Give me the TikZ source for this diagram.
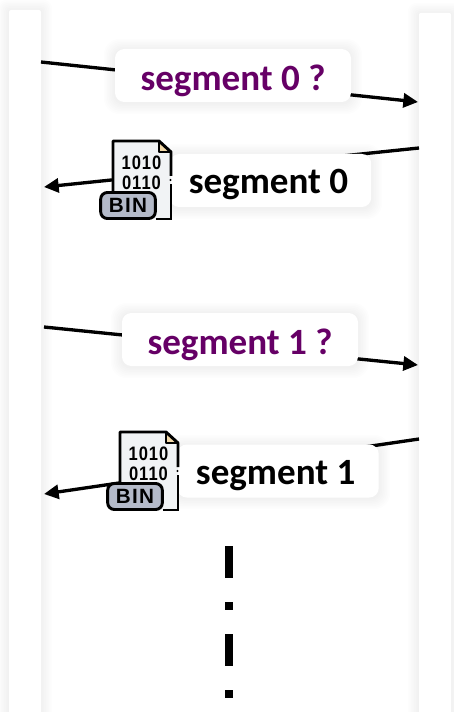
\documentclass[tikz,border=0pt]{standalone}
\usepackage{fontspec}
\setmainfont{Carlito}
\newfontfamily\iconfont[LetterSpace=6]{Liberation Sans}
\usetikzlibrary{arrows.meta}
\definecolor{plum}{HTML}{660066}
\definecolor{binfill}{HTML}{B4BAC9}
\definecolor{pagefill}{HTML}{F1F3F5}
\definecolor{foldfill}{HTML}{F3D9A8}
\newcommand{\softshadow}[5]{%
  \foreach \s in {1,2,...,7}{%
    \fill[black,fill opacity=0.009,rounded corners=#5*0.75pt+\s*0.75pt]
      (#1-1.6*\s,#2-1.6*\s+1) rectangle (#3+1.6*\s,#4+1.6*\s+1);
  }%
}
\tikzset{
  x=0.75pt,y=-0.75pt,
  lifebar/.style={fill=white,rounded corners=1.5pt,minimum width=24pt,inner sep=0pt},
  msgbox/.style={fill=white,rounded corners=7pt,inner sep=0pt,font=\bfseries\fontsize{27.8}{30}\selectfont,text=black},
  askbox/.style={msgbox,minimum width=177pt,minimum height=39.75pt,text=plum,text height=24pt,text depth=2.2pt},
  replybox/.style={msgbox,minimum width=151pt,minimum height=39.75pt,text height=23.2pt,text depth=3pt},
  msgline/.style={draw=black,line width=2.5pt},
  msgarrow/.style={msgline,-{Triangle[length=11pt,width=10.5pt]}},
  dashbar/.style={fill=black,inner sep=0pt,minimum width=6pt},
  digits/.style={font=\iconfont\bfseries\fontsize{14.6}{15}\selectfont,inner sep=0pt,text=black,transform shape,xscale=0.85},
  binicon/.pic={
    \fill[pagefill] (113,141) -- (159,141) -- (171,152) -- (171,219) -- (113,219) -- cycle;
    \fill[foldfill] (159,141) -- (171,152) -- (159,152) -- cycle;
    \draw[line width=2.2pt,line join=round] (171,176) -- (171,152) -- (159,141) -- (113,141) -- (113,195);
    \draw[line width=2.2pt,line join=round] (159,141) -- (159,152) -- (171,152);
    \draw[line width=2.2pt] (171,184) -- (171,219) -- (156,219);
    \fill (170.5,180) circle (1.2);
    \node[digits] (-rowa) at (141.5,163) {1010};
    \node[digits] (-rowb) at (141.5,182.5) {0110};
    \node[draw=black,line width=2.2pt,fill=binfill,rounded corners=5pt,minimum width=41pt,minimum height=19.5pt,inner sep=0pt,font=\iconfont\bfseries\fontsize{15.5}{15}\selectfont,text=black] (-tag) at (128,205.5) {BIN};
  }
}
\begin{document}
\begin{tikzpicture}
\useasboundingbox (0,0) rectangle (454,712);
\clip (0,0) rectangle (454,712);
\fill[white] (0,0) rectangle (454,712);
% lifelines
\softshadow{9}{10}{41}{730}{2}
\softshadow{419}{13}{451}{730}{2}
\node[lifebar,minimum height=540pt] (barL) at (25,370) {};
\node[lifebar,minimum height=538pt] (barR) at (435,371.5) {};
% free ends
\coordinate (a0) at (41,62);
\coordinate (b0) at (418,102);
\coordinate (c0) at (419,148);
\coordinate (d0) at (44,187);
\coordinate (a1) at (44,327);
\coordinate (b1) at (418,365);
\coordinate (c1) at (419,439);
\coordinate (d1) at (44,494);
% connectors
\draw[msgarrow] (a0) -- (b0);
\draw[msgarrow] (c0) -- (d0);
\draw[msgarrow] (a1) -- (b1);
\draw[msgarrow] (c1) -- (d1);
% boxes
\softshadow{115}{49}{351}{102}{9}
\softshadow{170}{154}{371}{207}{9}
\softshadow{122}{313}{358}{366}{9}
\softshadow{177}{445}{379}{497}{9}
\node[askbox] (ask0) at (233,75.5) {segment 0 ?};
\node[replybox] (rep0) at (270.5,180.5) {segment 0\hspace*{3pt}};
\node[askbox] (ask1) at (240,339.5) {segment 1 ?};
\node[replybox] (rep1) at (278,471) {segment 1\hspace*{3.5pt}};
% icons
\pic (iconA) at (0,0) {binicon};
\pic (iconB) at (7,291) {binicon};
% ellipsis
\node[dashbar,minimum height=24pt] (dasha) at (228.5,562) {};
\node[dashbar,minimum height=6pt] (dota) at (228.5,606) {};
\node[dashbar,minimum height=24pt] (dashb) at (228.5,650) {};
\node[dashbar,minimum height=6pt] (dotb) at (228.5,694) {};
\end{tikzpicture}
\end{document}
